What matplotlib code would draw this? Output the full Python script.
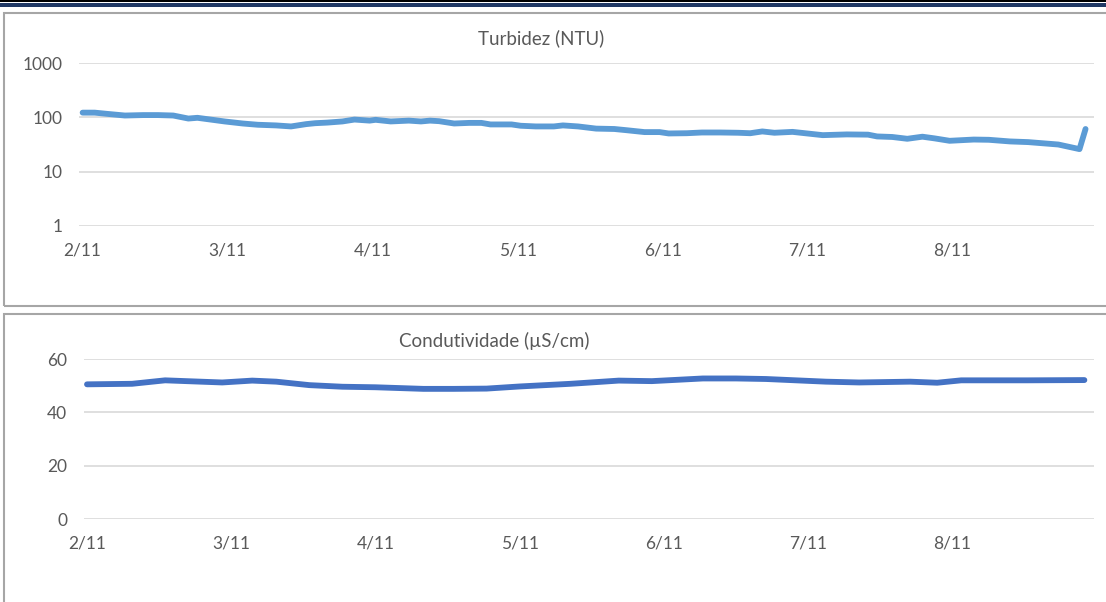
import numpy as np
import matplotlib
matplotlib.use("Agg")
import matplotlib.pyplot as plt
from matplotlib.patches import Rectangle

plt.rcParams['font.family'] = ['Lato', 'DejaVu Sans']

# tick labels (one per day, positions in hours since 2/11 00:00)
day_labels = ['2/11', '3/11', '4/11', '5/11', '6/11', '7/11', '8/11']
day_hours = [0, 24, 48, 72, 96, 120, 144]

# Turbidez (NTU)
turb_h = [0, 2, 4, 7, 10, 12.5, 15, 17.5, 19, 21.5, 23.5, 26.5, 29, 32, 34.5,
          37, 38.5, 40.5, 43, 45, 47.5, 48.5, 51, 54, 56, 57.5, 59, 61.5, 64,
          66, 67.5, 71, 72.5, 75, 78, 79.5, 82, 85, 88, 90, 93, 95.5, 97, 100,
          102.5, 105.5, 108.5, 110.5, 112.5, 114.5, 117.5, 122.5, 126.5, 130,
          131.5, 134, 136.5, 139, 141, 143.5, 147.5, 150, 153.5, 156.5, 161.5,
          165, 166]
turb_v = [122, 122, 116, 108, 110, 110, 108, 95, 98, 90, 84, 77, 73, 71, 68,
          75, 78, 80, 84, 91, 87, 90, 84, 87, 84, 87, 85, 77, 79,
          79, 74, 74, 70, 68, 68, 71, 68, 62, 61, 58, 53.5, 53.5, 50.5, 51,
          52.6, 52.6, 52, 51, 55, 52, 54, 47, 48.5, 48,
          44.5, 43.5, 40.3, 44, 41, 37, 39, 38.6, 36, 35, 31.6,
          26, 61]

# Condutividade (uS/cm)
cond_h = [0, 7.5, 13, 16.5, 22.5, 27.5, 31.5, 37, 42.5, 48, 56, 61, 66.5, 72,
          80.5, 88.5, 94, 102.5, 108, 113, 123, 128.5, 137, 141.5, 145.5,
          156.5, 166]
cond_v = [50.5, 50.7, 52.0, 51.7, 51.2, 51.9, 51.5, 50.2, 49.6, 49.4, 48.8,
          48.8, 48.9, 49.7, 50.7, 51.9, 51.7, 52.7, 52.7, 52.5, 51.5, 51.2,
          51.5, 51.1, 52.0, 52.0, 52.1]

W, H = 1106, 602
fig = plt.figure(figsize=(W / 100, H / 100), dpi=100)
fig.patch.set_facecolor('white')


def fx(px):
    return px / W


def fy(py):
    return 1 - py / H


# header lines at the top of the page
fig.add_artist(Rectangle((0, fy(2)), 1, 2 / H, transform=fig.transFigure,
                         color='black', lw=0))
fig.add_artist(Rectangle((0, fy(7)), 1, 4 / H, transform=fig.transFigure,
                         color='#1F3864', lw=0))

# chart boxes
fig.add_artist(Rectangle((fx(4), fy(306)), fx(1110 - 4), (306 - 13) / H,
                         transform=fig.transFigure, fill=False,
                         edgecolor='#A6A6A6', lw=1.5))
fig.add_artist(Rectangle((fx(4), fy(610)), fx(1110 - 4), (610 - 314) / H,
                         transform=fig.transFigure, fill=False,
                         edgecolor='#A6A6A6', lw=1.5))

txt = '#595959'
grid = '#D9D9D9'


def style(ax):
    for s in ax.spines.values():
        s.set_visible(False)
    ax.tick_params(length=0, labelsize=12.5, colors=txt, pad=12)
    ax.grid(axis='y', color=grid, lw=1.2)
    ax.set_axisbelow(True)
    ax.set_xticks(day_hours)
    ax.set_xticklabels(day_labels)


# top: turbidity (log scale)
ax1 = fig.add_axes([fx(79), fy(226), fx(1094 - 79), (226 - 63) / H])
ax1.plot(turb_h, turb_v, color='#5B9BD5', lw=4.2, solid_capstyle='round',
         solid_joinstyle='round')
ax1.set_yscale('log')
ax1.set_ylim(1, 1000)
ax1.set_yticks([1, 10, 100, 1000])
ax1.set_yticklabels(['1', '10', '100', '1000'])
ax1.minorticks_off()
ax1.set_xlim(-0.6, 167.4)
style(ax1)
fig.text(fx(541), fy(38), 'Turbidez (NTU)', ha='center', va='center',
         fontsize=13.5, color=txt)

# bottom: conductivity
ax2 = fig.add_axes([fx(84), fy(519), fx(1094 - 84), (519 - 359) / H])
ax2.plot(cond_h, cond_v, color='#4472C4', lw=4.2, solid_capstyle='round',
         solid_joinstyle='round')
ax2.set_ylim(0, 60)
ax2.set_yticks([0, 20, 40, 60])
ax2.set_xlim(-0.5, 167.6)
style(ax2)
fig.text(fx(494), fy(341), 'Condutividade (µS/cm)', ha='center',
         va='center', fontsize=13.5, color=txt)

fig.savefig('out.png', dpi=100)
plt.close(fig)
